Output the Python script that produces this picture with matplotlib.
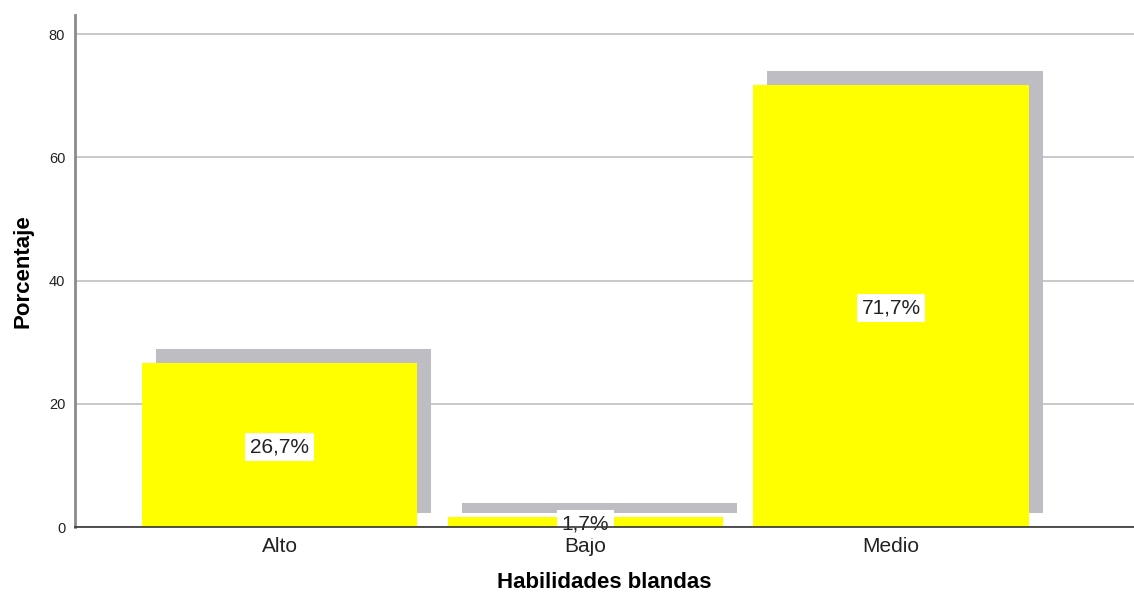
import matplotlib
matplotlib.use("Agg")
import matplotlib.pyplot as plt
import matplotlib.transforms as mtransforms
import numpy as np

categories = ["Alto", "Bajo", "Medio"]
percentages = [26.7, 1.7, 71.7]
value_labels = ["26,7%", "1,7%", "71,7%"]
y_ticks = [0, 20, 40, 60, 80]

plt.rcParams['font.family'] = ['Liberation Sans', 'DejaVu Sans']

fig = plt.figure(figsize=(11.34, 6.03), dpi=100)
ax = fig.add_axes([0.0661, 0.126, 0.9339, 0.849])

x = np.arange(len(categories))
bar_w = 0.9

# drop shadow: same bars, shifted 14 px right and up
shadow = mtransforms.ScaledTranslation(0.14, 0.14, fig.dpi_scale_trans)
ax.bar(x, percentages, width=bar_w, color="#bdbdc3", zorder=2,
       transform=ax.transData + shadow)
ax.bar(x, percentages, width=bar_w, color="#ffff00", zorder=3)

for xi, v, lab in zip(x, percentages, value_labels):
    ax.text(xi, v / 2, lab, ha="center", va="center_baseline", fontsize=15,
            color="#222222", zorder=4,
            bbox=dict(boxstyle="square,pad=0.22", fc="white", ec="none"))

ax.set_xlim(-0.669, 2.795)
ax.set_ylim(0, 83.1)
ax.set_xticks(x)
ax.set_xticklabels(categories)
ax.set_yticks(y_ticks)
ax.tick_params(axis="x", length=0, pad=7, labelsize=15, labelcolor="#222222")
ax.tick_params(axis="y", length=0, pad=7, labelsize=10.5, labelcolor="#222222")

ax.grid(axis="y", color="#c0c0c0", linewidth=1.2, zorder=1)
ax.set_axisbelow(True)

for side in ("top", "right"):
    ax.spines[side].set_visible(False)
ax.spines["left"].set_color("#8a8a8a")
ax.spines["left"].set_linewidth(2)
ax.spines["bottom"].set_color("#333333")
ax.spines["bottom"].set_linewidth(1.2)
ax.spines["bottom"].set_zorder(5)

ax.set_xlabel("Habilidades blandas", fontsize=16, fontweight="bold", labelpad=12)
ax.set_ylabel("Porcentaje", fontsize=16, fontweight="bold", labelpad=11)

fig.savefig("out.png", dpi=100)
